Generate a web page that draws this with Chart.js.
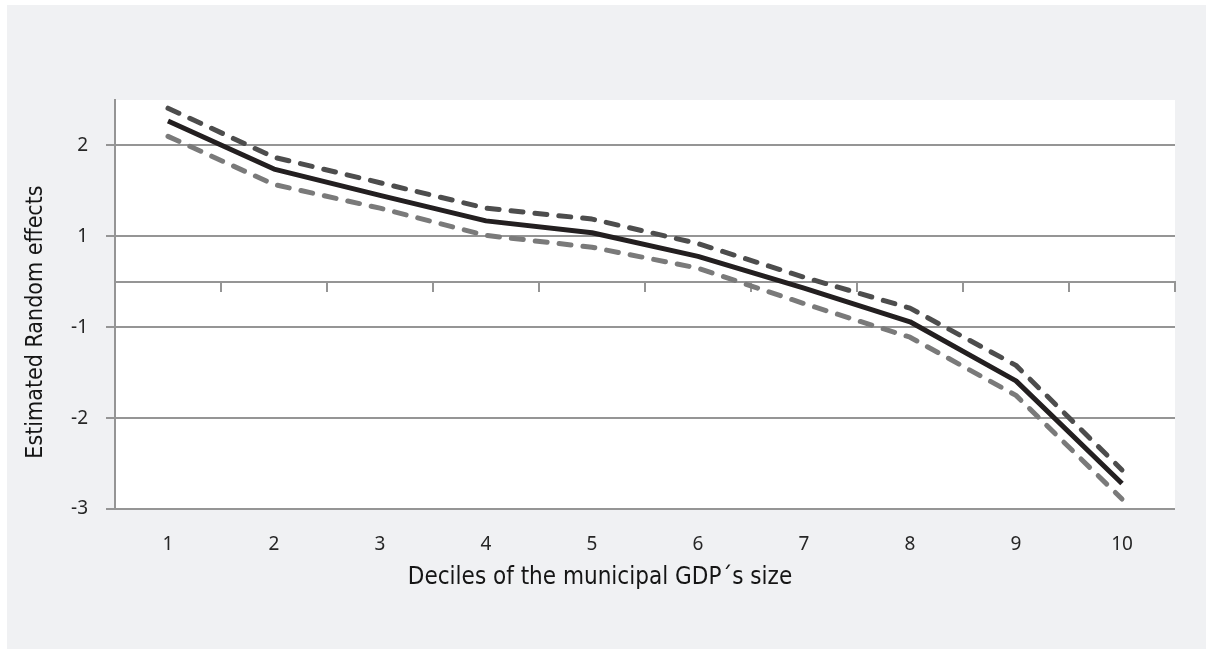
<!DOCTYPE html>
<html>
<head>
<meta charset="utf-8">
<title>Estimated random effects by GDP decile</title>
<script src="https://cdn.jsdelivr.net/npm/chart.js@4.4.1/dist/chart.umd.min.js"></script>
<style>
  html, body { margin: 0; padding: 0; background: #fff; }
  #chart { display: block; }
</style>
</head>
<body>
<canvas id="chart" width="1206" height="650"></canvas>
<script>
'use strict';

// deciles of the municipal GDP size (x categories)
const deciles = ['1', '2', '3', '4', '5', '6', '7', '8', '9', '10'];

// estimated random effects in plot units
const estimate   = [1.27, 0.74, 0.45, 0.17, 0.04, -0.22, -0.57, -0.94, -1.59, -2.72];
const upperBound = [1.41, 0.87, 0.59, 0.31, 0.19, -0.08, -0.45, -0.79, -1.42, -2.57];
const lowerBound = [1.10, 0.57, 0.31, 0.01, -0.12, -0.35, -0.74, -1.11, -1.75, -2.89];

// y ticks as printed on the original (its labels are not evenly spaced)
const yTickValues = [1, 0, -0.5, -1, -2, -3];
const yTickLabels = ['2', '1', '', '-1', '-2', '-3'];
const xAxisCross = -0.5;

const xTitle = 'Deciles of the municipal GDP\u00b4s size';
const yTitle = 'Estimated Random effects';

const GRID = '#959595';
const TEXT = '#262626';
const TICK_FONT = { family: '"Noto Sans", "Open Sans", sans-serif', size: 19 };
const TITLE_FAMILY = '"Liberation Sans Narrow", "DejaVu Sans Condensed", "Roboto", sans-serif';

// grey panel, white plot area and the two axis titles (centred on the panel like the original)
const frame = {
  id: 'frame',
  beforeDraw(chart) {
    const { ctx, chartArea: a } = chart;
    ctx.save();
    ctx.fillStyle = '#f0f1f3';
    ctx.fillRect(7, 5, chart.width - 7, chart.height - 6);
    ctx.fillStyle = '#ffffff';
    ctx.fillRect(a.left, a.top, a.right - a.left, a.bottom - a.top);
    ctx.restore();
  },
  afterDraw(chart) {
    const ctx = chart.ctx;
    ctx.save();
    ctx.fillStyle = '#151515';
    ctx.textAlign = 'center';
    ctx.textBaseline = 'middle';
    ctx.font = '24px ' + TITLE_FAMILY;
    ctx.fillText(xTitle, 600, 578);
    ctx.font = '23px ' + TITLE_FAMILY;
    ctx.translate(36, 322);
    ctx.rotate(-Math.PI / 2);
    ctx.fillText(yTitle, 0, 0);
    ctx.restore();
  }
};

const line = (label, data, color, dashed) => ({
  label,
  data,
  borderColor: color,
  borderWidth: 5,
  borderDash: dashed ? [12, 12] : [],
  borderCapStyle: dashed ? 'round' : 'butt',
  borderJoinStyle: 'round',
  pointRadius: 0,
  tension: 0,
  fill: false
});

new Chart(document.getElementById('chart'), {
  type: 'line',
  data: {
    labels: deciles,
    datasets: [
      line('Estimate', estimate, '#231f20', false),
      line('Upper bound', upperBound, '#4d4d4d', true),
      line('Lower bound', lowerBound, '#7a7a7a', true)
    ]
  },
  options: {
    responsive: false,
    animation: false,
    layout: { padding: { top: 100, right: 31, left: 0, bottom: 0 } },
    plugins: { legend: { display: false }, tooltip: { enabled: false } },
    scales: {
      x: {
        type: 'category',
        offset: true,
        grid: { display: false, drawTicks: false },
        border: { display: false },
        ticks: { color: TEXT, font: TICK_FONT, padding: 24, maxRotation: 0 },
        afterFit(s) { s.height = 141; }
      },
      // the category axis line crossing the plot, with marks between deciles
      x2: {
        type: 'category',
        position: { y: xAxisCross },
        offset: true,
        grid: { offset: true, drawOnChartArea: false, tickLength: 9, color: GRID, lineWidth: 2 },
        border: { color: GRID, width: 2 },
        ticks: { display: false }
      },
      y: {
        type: 'linear',
        min: -3,
        max: 1.5,
        afterBuildTicks(s) { s.ticks = yTickValues.map(v => ({ value: v })); },
        ticks: {
          color: TEXT,
          font: TICK_FONT,
          padding: 18,
          callback: v => yTickLabels[yTickValues.indexOf(v)]
        },
        grid: {
          color: GRID,
          lineWidth: 2,
          tickLength: 9,
          tickColor: c => (c.tick && c.tick.value === xAxisCross ? 'rgba(0,0,0,0)' : GRID)
        },
        border: { color: GRID, width: 2 },
        afterFit(s) { s.width = 115; }
      }
    }
  },
  plugins: [frame]
});
</script>
</body>
</html>
